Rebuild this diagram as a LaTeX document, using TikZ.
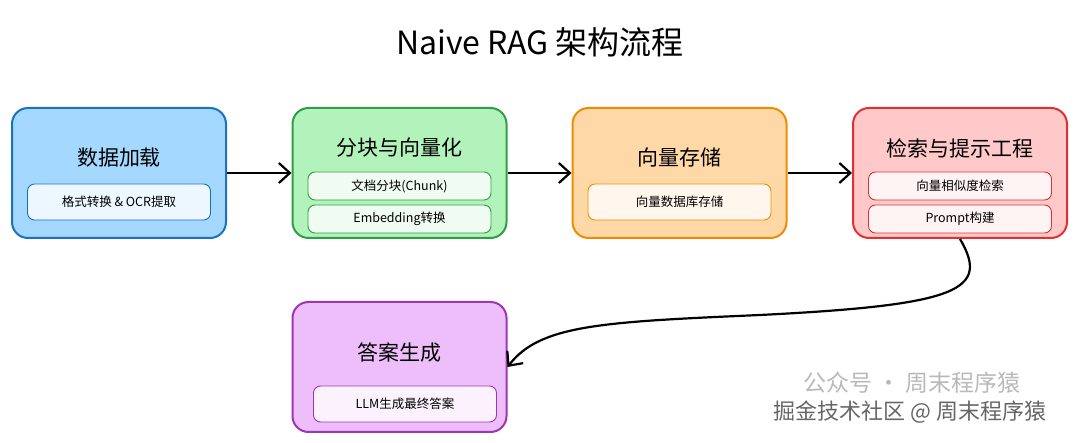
\documentclass[tikz,border=0pt]{standalone}
\usepackage{fontspec}
\setmainfont{Noto Sans CJK SC}
\usetikzlibrary{arrows.meta, positioning}
\definecolor{bluefill}{HTML}{A5D8FF}\definecolor{blueline}{HTML}{1971C2}
\definecolor{greenfill}{HTML}{B2F2BB}\definecolor{greenline}{HTML}{2F9E44}
\definecolor{orangefill}{HTML}{FFD8A8}\definecolor{orangeline}{HTML}{F08C00}
\definecolor{redfill}{HTML}{FFC9C9}\definecolor{redline}{HTML}{E03131}
\definecolor{purplefill}{HTML}{EEBEFA}\definecolor{purpleline}{HTML}{9C36B5}
\tikzset{
  stage/.style = {draw=#1line, fill=#1fill, line width=2pt, rounded corners=16pt,
                  minimum width=214pt, minimum height=130pt},
  sub/.style 2 args = {draw=#1line, fill=white!80!#1fill, line width=0.9pt, rounded corners=7pt,
                minimum width=183pt, minimum height=#2, font=\fontsize{12.5}{12.5}\selectfont},
  title/.style = {font=\fontsize{21}{21}\selectfont},
  flow/.style = {-{Straight Barb[length=11pt,width=20pt]}, line width=2.2pt}
}
\begin{document}
\begin{tikzpicture}[x=1pt, y=-1pt]
  \useasboundingbox (0,0) rectangle (1080,443);
  \node (head) at (540,42) [font=\fontsize{32}{32}\selectfont] {Naive RAG 架构流程};

  \node (load) at (119,173) [stage=blue] {};
  \node (split) at (399.5,173) [stage=green] {};
  \node (store) at (679.5,173) [stage=orange] {};
  \node (search) at (960,173) [stage=red] {};
  \node (answer) at (399.5,367) [stage=purple] {};

  \node (loadT) at (119,158) [title] {数据加载};
  \node (loadA) at (119,202) [sub={blue}{36pt}] {格式转换 \& OCR提取};

  \node (splitT) at (399.5,148) [title] {分块与向量化};
  \node (splitA) at (399.5,186) [sub={green}{28pt}] {文档分块(Chunk)};
  \node (splitB) at (399.5,219) [sub={green}{28pt}] {Embedding转换};

  \node (storeT) at (679.5,158) [title] {向量存储};
  \node (storeA) at (679.5,202) [sub={orange}{36pt}] {向量数据库存储};

  \node (searchT) at (960,148) [title] {检索与提示工程};
  \node (searchA) at (960,186) [sub={red}{28pt}] {向量相似度检索};
  \node (searchB) at (960,219) [sub={red}{28pt}] {Prompt构建};

  \node (answerT) at (399.5,353) [title] {答案生成};
  \node (answerA) at (405,404) [sub={purple}{36pt}] {LLM生成最终答案};

  \draw[flow] (load) -- (split);
  \draw[flow] (split) -- (store);
  \draw[flow] (store) -- (search);
  \draw[flow] (search.south) .. controls (990,290) and (960,305) .. (760,315)
        .. controls (600,322) and (540,325) .. (answer.east);

  \node (wm1) at (912,383) [text=gray!55, font=\fontsize{23}{23}\selectfont] {公众号 · 周末程序猿};
  \node (wm2) at (910,412) [text=gray!80!black, font=\fontsize{22}{22}\selectfont] {掘金技术社区 @ 周末程序猿};
\end{tikzpicture}
\end{document}
